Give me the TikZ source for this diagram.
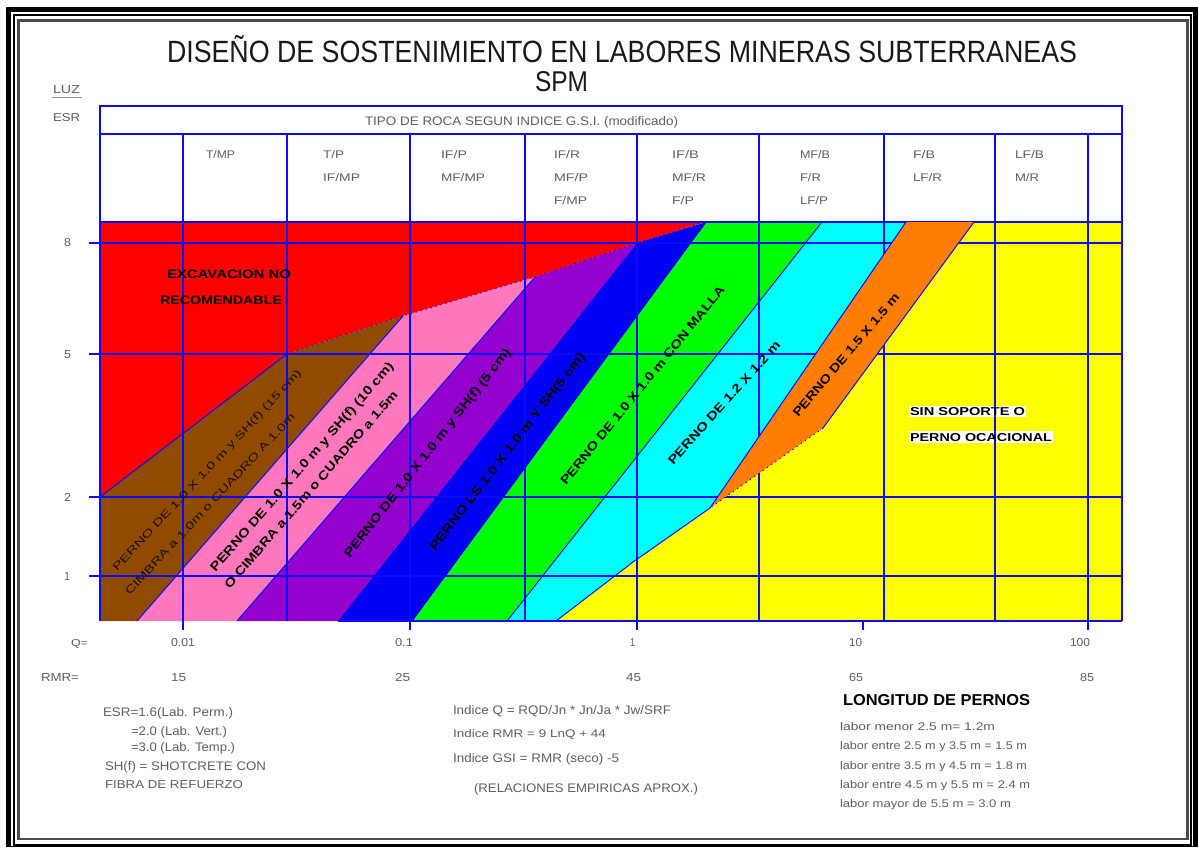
\documentclass[tikz,border=0pt]{standalone}
\usepackage{fontspec}
\usepackage{graphicx}
\setmainfont{Liberation Sans}
\definecolor{gridblue}{RGB}{10,10,245}
\definecolor{cred}{RGB}{255,0,0}
\definecolor{cbrown}{RGB}{145,75,0}
\definecolor{cpink}{RGB}{255,120,190}
\definecolor{cpurple}{RGB}{148,0,205}
\definecolor{cblue}{RGB}{0,0,245}
\definecolor{cgreen}{RGB}{0,255,0}
\definecolor{ccyan}{RGB}{0,255,255}
\definecolor{corange}{RGB}{255,125,0}
\definecolor{cyellow}{RGB}{255,255,0}
\definecolor{txtgray}{RGB}{95,95,95}
\tikzset{
  lbl/.style={inner sep=0pt,outer sep=0pt,anchor=base west,text=txtgray},
  lbldark/.style={inner sep=0pt,outer sep=0pt,anchor=base west,text=black},
  rotlbl/.style={inner sep=0pt,outer sep=0pt,anchor=center,text=black},
  gridline/.style={draw=gridblue,line width=1.8pt},
  edgeline/.style={draw=gridblue,line width=1pt},
  dotline/.style={draw=gridblue,line width=1pt,dash pattern=on 1.2pt off 4pt}
}
\newcommand{\txt}[6]{\node[lbl] (#1) at (#2,#3) {\resizebox{#4pt}{#5pt}{#6}};}
\newcommand{\txd}[6]{\node[lbldark] (#1) at (#2,#3) {\resizebox{#4pt}{#5pt}{\bfseries #6}};}
\newcommand{\rtx}[7]{\node[rotlbl,rotate=#4] (#1) at (#2,#3) {\resizebox{#5pt}{#6pt}{#7}};}
\begin{document}
\begin{tikzpicture}[x=1pt,y=-1pt]
\useasboundingbox (0,0) rectangle (1198,847);
% frame
\fill[white] (0,0) rectangle (1198,847);
\fill[black] (6,7) rectangle (1198,847);
\fill[white] (11,12) rectangle (1193,846);
\draw[black,line width=2pt] (14,14.5) rectangle (1190.5,845);
\draw[black!70,line width=2.6pt] (18.5,20.5) rectangle (1187.5,839);
% coloured regions
\fill[cyellow] (100,222) rectangle (1122,621);
\fill[cred] (100,222) -- (706,222) -- (637,243) -- (535,277) -- (403,316) -- (287,354) -- (100,497) -- cycle;
\fill[cbrown] (100,497) -- (287,354) -- (403,316) -- (137,621) -- (100,621) -- cycle;
\fill[cpink] (137,621) -- (403,316) -- (535,277) -- (237,621) -- cycle;
\fill[cpurple] (237,621) -- (535,277) -- (637,243) -- (338,621) -- cycle;
\fill[cblue] (338,621) -- (637,243) -- (707,222) -- (413,621) -- cycle;
\fill[cgreen] (413,621) -- (707,222) -- (822,222) -- (507,621) -- cycle;
\fill[ccyan] (507,621) -- (822,222) -- (906,222) -- (710,508) -- (633,562) -- (556,621) -- cycle;
% white highlights
\fill[white] (909,406) rectangle (1026,417);
\fill[white] (909,431) rectangle (1053,443);
% grid
\draw[gridline] (100,106) rectangle (1122,134);
\draw[gridline] (100,134) -- (100,621);
\draw[gridline] (1122,134) -- (1122,621);
\draw[gridline] (100,222) -- (1122,222);
\foreach \yy in {243,354,497,576} \draw[gridline] (89,\yy) -- (1122,\yy);
\draw[gridline] (338,621) -- (1122,621);
\foreach \xx in {183,410,637,1088} \draw[gridline] (\xx,134) -- (\xx,630);
\foreach \xx in {287,525,759,884,995} \draw[gridline] (\xx,134) -- (\xx,621);
\draw[gridline] (863,621) -- (863,630);
% region edges
\draw[edgeline] (100,497) -- (287,354);
\draw[edgeline] (137,621) -- (403,316);
\draw[edgeline] (237,621) -- (535,277);
\draw[edgeline] (507,621) -- (822,222);
\draw[edgeline] (556,621) -- (633,562) -- (710,508);
\draw[dotline] (287,354) -- (403,316) -- (535,277) -- (637,243) -- (706,222);
% orange band over the grid
\fill[corange] (710,508) -- (906,222) -- (974,222) -- (823,428) -- cycle;
\draw[edgeline] (710,508) -- (906,222);
\draw[edgeline] (974,222) -- (823,428);
\draw[dotline] (823,428) -- (710,508);
% title
\node[lbldark] (title) at (167,62) {\resizebox{910pt}{27pt}{\color{black!90}DISEÑO DE SOSTENIMIENTO EN LABORES MINERAS SUBTERRANEAS}};
\node[lbldark] (spm) at (535,91) {\resizebox{53pt}{20pt}{\color{black!90}SPM}};
% axis captions
\txt{luz}{53}{93}{27}{8}{LUZ}
\coordinate (luzA) at (52,97);
\coordinate (luzB) at (82,97);
\draw[txtgray!70,line width=0.8pt] (luzA) -- (luzB);
\txt{esr}{53}{121.5}{27}{8}{ESR}
\txt{y8}{64}{246.5}{7}{8}{8}
\txt{y5}{64}{358}{7}{8}{5}
\txt{y2}{64}{501}{7}{8}{2}
\txt{y1}{64}{580}{6}{8}{1}
% table heads
\txt{tipo}{365}{125}{313}{9}{TIPO DE ROCA SEGUN INDICE G.S.I. (modificado)}
\txt{c1a}{206}{158}{29}{8}{T/MP}
\txt{c2a}{323}{158}{21}{8}{T/P}
\txt{c2b}{323}{181}{37}{8}{IF/MP}
\txt{c3a}{441}{158}{26}{8}{IF/P}
\txt{c3b}{441}{181}{44}{8}{MF/MP}
\txt{c4a}{554}{158}{26}{8}{IF/R}
\txt{c4b}{554}{181}{34}{8}{MF/P}
\txt{c4c}{554}{204}{33}{8}{F/MP}
\txt{c5a}{672}{158}{27}{8}{IF/B}
\txt{c5b}{672}{181}{34}{8}{MF/R}
\txt{c5c}{672}{204}{22}{8}{F/P}
\txt{c6a}{800}{158}{30}{8}{MF/B}
\txt{c6b}{800}{181}{21}{8}{F/R}
\txt{c6c}{800}{204}{28}{8}{LF/P}
\txt{c7a}{913}{158}{22}{8}{F/B}
\txt{c7b}{913}{181}{29}{8}{LF/R}
\txt{c8a}{1015}{158}{29}{8}{LF/B}
\txt{c8b}{1015}{181}{24}{8}{M/R}
% x axis
\txt{qq}{71}{646}{17}{7}{Q=}
\txt{q1}{171}{646}{24}{8}{0.01}
\txt{q2}{395}{646}{18}{8}{0.1}
\txt{q3}{630}{646}{5}{8}{1}
\txt{q4}{849}{646}{13}{8}{10}
\txt{q5}{1070}{646}{20}{8}{100}
\txt{rr}{41}{681}{38}{8}{RMR=}
\txt{r1}{171}{681}{15}{8}{15}
\txt{r2}{395}{681}{15}{8}{25}
\txt{r3}{626}{681}{15}{8}{45}
\txt{r4}{849}{681}{14}{8}{65}
\txt{r5}{1080}{681}{14}{8}{85}
% notes
\txt{n1}{103}{716.5}{130}{9}{ESR=1.6(Lab. Perm.)}
\txt{n2}{131}{735}{96}{9}{=2.0 (Lab. Vert.)}
\txt{n3}{131}{751}{104}{9}{=3.0 (Lab. Temp.)}
\txt{n4}{105}{770}{161}{9}{SH(f) = SHOTCRETE CON}
\txt{n5}{105}{788}{138}{8}{FIBRA DE REFUERZO}
\txt{m1}{453}{714}{218}{9}{Indice Q = RQD/Jn * Jn/Ja * Jw/SRF}
\txt{m2}{453}{737}{153}{8}{Indice RMR = 9 LnQ + 44}
\txt{m3}{453}{762}{166}{9}{Indice GSI = RMR (seco) -5}
\txt{m4}{474}{792}{224}{9}{(RELACIONES EMPIRICAS APROX.)}
\txd{l0}{843}{705}{187}{11}{LONGITUD DE PERNOS}
\txt{l1}{840}{730}{155}{8}{labor menor 2.5 m= 1.2m}
\txt{l2}{840}{749}{187}{8}{labor entre 2.5 m y 3.5 m = 1.5 m}
\txt{l3}{840}{769}{187}{8}{labor entre 3.5 m y 4.5 m = 1.8 m}
\txt{l4}{840}{788}{190}{8}{labor entre 4.5 m y 5.5 m = 2.4 m}
\txt{l5}{840}{807}{171}{8}{labor mayor de 5.5 m = 3.0 m}
% labels in regions
\txd{e1}{167}{278}{124}{8.5}{EXCAVACION NO}
\txd{e2}{160}{304}{122}{8.5}{RECOMENDABLE}
\txd{s1}{910}{415.5}{115}{8}{SIN SOPORTE O}
\txd{s2}{910}{441}{142}{8}{PERNO OCACIONAL}
\rtx{b1}{207.5}{471}{47}{271}{7.5}{\color{black!80!cbrown}PERNO DE 1.0 X 1.0 m y SH(f) (15 cm)}
\rtx{b2}{210}{504}{47}{243}{7.5}{\color{black!80!cbrown}CIMBRA a 1.0m o CUADRO A 1.0m}
\rtx{p1}{302.5}{467.5}{49}{272}{9}{\bfseries PERNO DE 1.0 X 1.0 m y SH(f) (10 cm)}
\rtx{p2}{311}{489.5}{49}{257}{8.5}{\bfseries O CIMBRA a 1.5m o CUADRO a 1.5m}
\rtx{u1}{428}{453.5}{52}{262}{9}{\bfseries PERNO DE 1.0 X 1.0 m y SH(f) (5 cm)}
\rtx{bl}{508}{452}{52.4}{246}{9}{\bfseries PERNO LS 1.0 X 1.0 m Y SH(5 cm)}
\rtx{gr}{642.5}{385.5}{50.8}{252}{8.5}{\bfseries PERNO DE 1.0 X 1.0 m CON MALLA}
\rtx{cy}{724}{403}{48}{161}{8.5}{\bfseries PERNO DE 1.2 X 1.2 m}
\rtx{or}{846}{355}{49.6}{157}{8.5}{\bfseries PERNO DE 1.5 X 1.5 m}
\end{tikzpicture}
\end{document}
